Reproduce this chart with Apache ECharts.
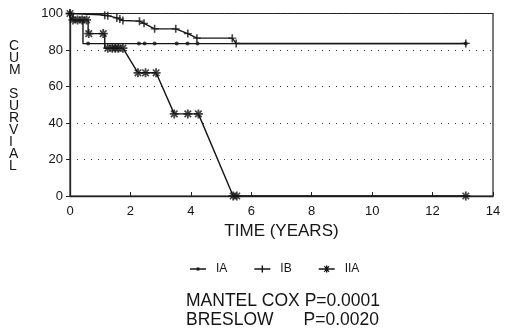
<!DOCTYPE html>
<html>
<head>
<meta charset="utf-8">
<script src="https://cdn.jsdelivr.net/npm/echarts@6/dist/echarts.min.js"></script>
<style>
  html, body { margin: 0; padding: 0; background: #fff; }
  #chart { width: 508px; height: 334px; }
</style>
</head>
<body>
<div id="chart"></div>
<script>
// survival curves, years vs cum survival (%)
var iaPath = [[0, 100], [0.1, 100], [0.1, 96], [0.43, 96], [0.43, 83.5], [13.1, 83.5]]
var iaMarks = [[0, 100], [0.6, 83.5], [2.28, 83.5], [2.47, 83.5], [2.8, 83.5], [3.53, 83.5], [3.89, 83.5], [4.22, 83.5], [13.1, 83.5]]

var ibPath = [[0, 100], [1.0, 99.3], [1.25, 98.8], [1.55, 97.6], [1.75, 96.2], [2.3, 95.8], [2.45, 94.6], [2.8, 91.6], [3.5, 91.6], [3.9, 89], [4.2, 86.5], [5.37, 86.5], [5.5, 83.6], [13.1, 83.6]]
var ibMarks = [[0, 100], [1.15, 99], [1.25, 98.8], [1.55, 97.6], [1.65, 97], [1.75, 96.2], [2.3, 95.8], [2.45, 94.6], [2.8, 91.6], [3.5, 91.6], [3.9, 89], [4.2, 86.5], [5.37, 86.5], [5.5, 83.6], [13.1, 83.6]]

var iiaPath = [[0, 100], [0.05, 100], [0.05, 96.5], [0.6, 96.5], [0.6, 89], [1.15, 89], [1.15, 81], [1.75, 81], [2.25, 67.5], [2.85, 67.5], [3.45, 45], [4.25, 45], [5.4, 0], [13.1, 0]]
var iiaMarks = [[0, 100], [0.1, 96.5], [0.25, 96.5], [0.4, 96.5], [0.55, 96.5], [0.62, 89], [1.1, 89], [1.25, 81], [1.4, 81], [1.5, 81], [1.6, 81], [1.75, 81], [2.25, 67.5], [2.5, 67.5], [2.85, 67.5], [3.45, 45], [3.9, 45], [4.25, 45], [5.4, 0], [5.52, 0], [13.1, 0]]

var xTicks = [0, 2, 4, 6, 8, 10, 12, 14]
var yTicks = [0, 20, 40, 60, 80, 100]
var yTitle = 'CUM SURVIAL'

var ink = '#151515'
var font = 'Liberation Sans'

var plusPath = 'path://M-0.16,-1H0.16V-0.14H0.8V0.14H0.16V1H-0.16V0.14H-0.8V-0.14H-0.16Z'
var starPath = 'path://M-0.2,-1H0.2V1H-0.2Z M-1,-0.2H1V0.2H-1Z M-0.85,-0.6L-0.6,-0.85L0.85,0.6L0.6,0.85Z M0.6,-0.85L0.85,-0.6L-0.6,0.85L-0.85,0.6Z'
// legend icons: 16 x 10 box, line through middle plus the marker
var legDot = 'path://M0,4.3H16V5.7H0Z M6.6,3.6H9.4V6.4H6.6Z M0,0H0.01V0.01H0Z M0,10H0.01V9.99H0Z'
var legPlus = 'path://M0,4.3H16V5.7H0Z M7.3,1.5H8.7V8.5H7.3Z M0,0H0.01V0.01H0Z M0,10H0.01V9.99H0Z'
var legStar = 'path://M0,4.3H16V5.7H0Z M7.3,1.5H8.7V8.5H7.3Z M4.5,4.3H11.5V5.7H4.5Z M5.2,2.6L6,1.8L10.8,7.4L10,8.2Z M10,1.8L10.8,2.6L6,8.2L5.2,7.4Z M0,0H0.01V0.01H0Z M0,10H0.01V9.99H0Z'

var chart = echarts.init(document.getElementById('chart'), null, { renderer: 'canvas' })

function lineSeries(name, path) {
  return {
    name: name,
    type: 'line',
    data: path,
    showSymbol: false,
    symbol: 'none',
    lineStyle: { color: ink, width: 1.4 },
    itemStyle: { color: ink },
    animation: false,
    z: 2
  }
}
function markSeries(name, marks, symbol, size) {
  return {
    name: name,
    type: 'scatter',
    data: marks,
    symbol: symbol,
    symbolSize: size,
    itemStyle: { color: ink },
    animation: false,
    z: 3
  }
}

var option = {
  backgroundColor: '#fff',
  grid: {
    left: 70, right: 15, top: 13.5, bottom: 138,
    show: true, borderColor: '#222', borderWidth: 1.2
  },
  xAxis: {
    type: 'value',
    min: 0, max: 14, interval: 2,
    name: 'TIME (YEARS)',
    nameLocation: 'middle',
    nameGap: 23,
    nameTextStyle: { fontFamily: font, fontSize: 17, color: ink },
    axisLine: { show: true, lineStyle: { color: '#222', width: 1.3 } },
    axisTick: { show: true, inside: true, length: 4, lineStyle: { color: '#222' } },
    axisLabel: { fontFamily: font, fontSize: 13, color: ink, margin: 9 },
    splitLine: { show: false }
  },
  yAxis: {
    type: 'value',
    min: 0, max: 100, interval: 20,
    axisLine: { show: true, lineStyle: { color: '#222', width: 1.3 } },
    axisTick: { show: true, inside: false, length: 4, lineStyle: { color: '#222' } },
    axisLabel: { fontFamily: font, fontSize: 13, color: ink, margin: 7 },
    splitLine: { show: true, lineStyle: { color: '#333', width: 1, type: [1, 6] } }
  },
  legend: {
    left: 185, top: 258,
    itemWidth: 16, itemHeight: 10, itemGap: 27,
    itemStyle: { color: ink, borderWidth: 0, opacity: 1 },
    inactiveColor: ink,
    textStyle: { fontFamily: font, fontSize: 12, color: ink, padding: [0, 0, 0, 5] },
    data: [
      { name: 'IA', icon: legDot },
      { name: 'IB', icon: legPlus },
      { name: 'IIA', icon: legStar }
    ],
    selectedMode: false
  },
  graphic: [
    {
      type: 'text', left: 9, top: 39,
      style: {
        text: yTitle.split('').join('\n'),
        fontFamily: font, fontSize: 14, lineHeight: 12, fill: ink, align: 'center'
      }
    },
    {
      type: 'text', left: 186, top: 292,
      style: {
        text: 'MANTEL COX P=0.0001',
        fontFamily: font, fontSize: 17.5, fill: ink
      }
    },
    {
      type: 'text', left: 186, top: 311,
      style: {
        text: 'BRESLOW',
        fontFamily: font, fontSize: 17.5, fill: ink
      }
    },
    {
      type: 'text', right: 129, top: 311,
      style: {
        text: 'P=0.0020',
        fontFamily: font, fontSize: 17.5, fill: ink
      }
    }
  ],
  series: [
    lineSeries('IA', iaPath),
    lineSeries('IB', ibPath),
    lineSeries('IIA', iiaPath),
    markSeries('IA', iaMarks, 'circle', 4),
    markSeries('IB', ibMarks, plusPath, 8),
    markSeries('IIA', iiaMarks, starPath, 9)
  ]
}
chart.setOption(option)
</script>
</body>
</html>
